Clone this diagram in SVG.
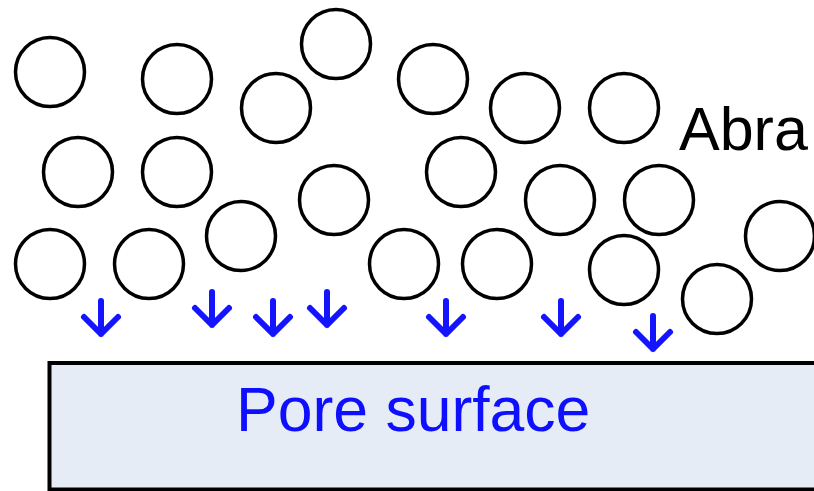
<svg xmlns="http://www.w3.org/2000/svg" width="814" height="491" viewBox="0 0 814 491">
<style>
.p{fill:none;stroke:#000;stroke-width:3.5}
.a{fill:none;stroke:#1414FF;stroke-width:6;stroke-linecap:round;stroke-linejoin:round}
.t{font-family:"Liberation Sans",Arial,sans-serif;font-size:61px}
</style>
<defs>
<path id="arr" class="a" d="M0,-33 V0 M-17,-17 L0,0 L17,-17"/>
</defs>
<rect width="814" height="491" fill="#fff"/>
<g id="surface">
<rect x="49.5" y="363" width="780" height="126.5" fill="#E6ECF6" stroke="#000" stroke-width="4"/>
<text class="t" x="236" y="431" fill="#0F0FFF" style="font-size:62.5px">Pore surface</text>
</g>
<g id="particles">
<g id="p1"><circle class="p" cx="50" cy="72" r="34.5"/></g>
<g id="p2"><circle class="p" cx="177" cy="79" r="34.5"/></g>
<g id="p3"><circle class="p" cx="276" cy="108" r="34.5"/></g>
<g id="p4"><circle class="p" cx="336" cy="44" r="34.5"/></g>
<g id="p5"><circle class="p" cx="433" cy="79" r="34.5"/></g>
<g id="p6"><circle class="p" cx="525" cy="108" r="34.5"/></g>
<g id="p7"><circle class="p" cx="624" cy="108" r="34.5"/></g>
<g id="p8"><circle class="p" cx="78" cy="172" r="34.5"/></g>
<g id="p9"><circle class="p" cx="177" cy="172" r="34.5"/></g>
<g id="p10"><circle class="p" cx="334" cy="200" r="34.5"/></g>
<g id="p11"><circle class="p" cx="461" cy="172" r="34.5"/></g>
<g id="p12"><circle class="p" cx="560" cy="200" r="34.5"/></g>
<g id="p13"><circle class="p" cx="659" cy="200" r="34.5"/></g>
<g id="p14"><circle class="p" cx="780" cy="236" r="34.5"/></g>
<g id="p15"><circle class="p" cx="241" cy="236" r="34.5"/></g>
<g id="p16"><circle class="p" cx="50" cy="264" r="34.5"/></g>
<g id="p17"><circle class="p" cx="149" cy="264" r="34.5"/></g>
<g id="p18"><circle class="p" cx="404" cy="264" r="34.5"/></g>
<g id="p19"><circle class="p" cx="497" cy="264" r="34.5"/></g>
<g id="p20"><circle class="p" cx="624" cy="270" r="34.5"/></g>
<g id="p21"><circle class="p" cx="717" cy="299" r="34.5"/></g>
</g>
<g id="label"><text class="t" x="679" y="150" fill="#000">Abra</text></g>
<g id="connectors">
<use href="#arr" x="101" y="334"/>
<use href="#arr" x="212" y="325"/>
<use href="#arr" x="273" y="334"/>
<use href="#arr" x="327" y="325"/>
<use href="#arr" x="446" y="334"/>
<use href="#arr" x="561" y="334"/>
<use href="#arr" x="653" y="349"/>
</g>
</svg>
